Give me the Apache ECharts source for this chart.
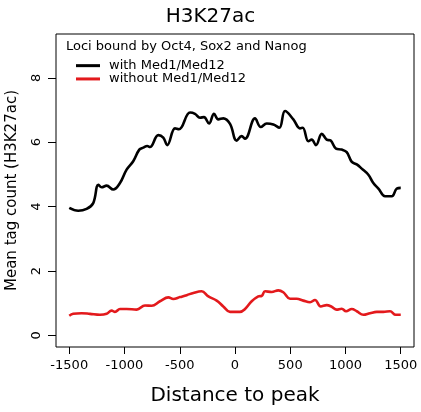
<!DOCTYPE html>
<html>
<head>
<meta charset="utf-8">
<script src="https://cdn.jsdelivr.net/npm/echarts@6/dist/echarts.min.js"></script>
<style>html,body{margin:0;padding:0;background:#fff;}#c{width:421px;height:412px;}</style>
</head>
<body>
<div id="c"></div>
<script>
var xTicks = [-1500, -1000, -500, 0, 500, 1000, 1500];
var yTicks = [0, 2, 4, 6, 8];

var withPos = [-1500,-1419,-1343,-1283,-1237,-1207,-1162,-1102,-1041,-981,-921,-866,-830,-794,-770,-694,-649,-613,-543,-507,-407,-362,-317,-281,-235,-190,-151,-106,-45,15,60,91,181,233,287,347,401,453,528,588,613,664,694,733,785,830,866,914,966,1011,1057,1102,1147,1207,1252,1298,1358,1419,1464,1500];
var withVal = [3.96,3.87,3.93,4.11,4.68,4.60,4.65,4.53,4.73,5.15,5.41,5.77,5.83,5.88,5.85,6.22,6.14,5.91,6.43,6.40,6.92,6.88,6.76,6.78,6.58,6.88,6.71,6.74,6.57,6.05,6.19,6.11,6.74,6.47,6.58,6.55,6.45,6.97,6.71,6.43,6.45,6.03,6.08,5.91,6.26,6.08,6.05,5.80,5.77,5.69,5.39,5.31,5.18,4.99,4.73,4.56,4.32,4.32,4.56,4.58];

var withoutPos = [-1500,-1464,-1388,-1313,-1222,-1162,-1117,-1086,-1041,-981,-890,-815,-754,-679,-603,-559,-498,-437,-377,-302,-241,-166,-106,-45,0,45,91,151,211,242,272,332,392,437,498,558,618,679,724,776,830,875,920,966,1005,1057,1102,1162,1222,1283,1343,1403,1455,1500];
var withoutVal = [0.61,0.67,0.69,0.67,0.64,0.67,0.77,0.73,0.82,0.82,0.80,0.93,0.92,1.06,1.18,1.13,1.19,1.25,1.32,1.37,1.21,1.08,0.90,0.73,0.73,0.73,0.82,1.06,1.21,1.23,1.37,1.35,1.40,1.34,1.14,1.14,1.08,1.03,1.10,0.90,0.94,0.89,0.80,0.83,0.75,0.82,0.75,0.64,0.69,0.73,0.73,0.75,0.64,0.64];

function pairs(xs, ys) { return xs.map(function (x, i) { return [x, ys[i]]; }); }
function plain(v) { return String(v); }

var FONT = 'DejaVu Sans';
var chart = echarts.init(document.getElementById('c'), null, {renderer: 'canvas'});
chart.setOption({
  animation: false,
  backgroundColor: '#fff',
  textStyle: {fontFamily: FONT, color: '#000'},
  title: [
    {text: 'H3K27ac', left: 'center', top: 2, textStyle: {fontFamily: FONT, fontSize: 20, fontWeight: 'normal', color: '#000'}},
    {text: 'Loci bound by Oct4, Sox2 and Nanog', left: 66, top: 40, padding: 0, textStyle: {fontFamily: FONT, fontSize: 13, fontWeight: 'normal', color: '#000'}}
  ],
  legend: {
    orient: 'vertical', left: 76, top: 59, padding: 0, itemGap: 0,
    itemWidth: 24, itemHeight: 3, icon: 'rect',
    textStyle: {fontFamily: FONT, fontSize: 13, color: '#000', lineHeight: 13.3, padding: [0, 0, 0, 4]},
    data: ['with Med1/Med12', 'without Med1/Med12']
  },
  grid: {left: 56, right: 7, top: 34, bottom: 65, show: true, borderColor: '#000', borderWidth: 1, containLabel: false, outerBoundsMode: 'none'},
  xAxis: {
    type: 'value', min: -1620, max: 1620,
    name: 'Distance to peak', nameLocation: 'middle', nameGap: 39,
    nameTextStyle: {fontFamily: FONT, fontSize: 20, color: '#000'},
    axisLine: {show: false, onZero: false},
    axisTick: {show: true, inside: false, length: 7, lineStyle: {color: '#000'}, customValues: xTicks},
    axisLabel: {fontFamily: FONT, fontSize: 13, color: '#000', margin: 12, customValues: xTicks, formatter: plain},
    splitLine: {show: false}
  },
  yAxis: {
    type: 'value', min: -0.36, max: 9.36,
    name: 'Mean tag count (H3K27ac)', nameLocation: 'middle', nameGap: 36, nameRotate: 90,
    nameTextStyle: {fontFamily: FONT, fontSize: 15, color: '#000'},
    axisLine: {show: false, onZero: false},
    axisTick: {show: true, inside: false, length: 8, lineStyle: {color: '#000'}, customValues: yTicks},
    axisLabel: {fontFamily: FONT, fontSize: 13, color: '#000', margin: 13, rotate: 90, customValues: yTicks, formatter: plain},
    splitLine: {show: false}
  },
  series: [
    {name: 'with Med1/Med12', type: 'line', data: pairs(withPos, withVal), smooth: 0.4, showSymbol: false, symbol: 'none', color: '#000', lineStyle: {color: '#000', width: 2.6}},
    {name: 'without Med1/Med12', type: 'line', data: pairs(withoutPos, withoutVal), smooth: 0.4, showSymbol: false, symbol: 'none', color: '#e3191c', lineStyle: {color: '#e3191c', width: 2.6}}
  ]
});
</script>
</body>
</html>
